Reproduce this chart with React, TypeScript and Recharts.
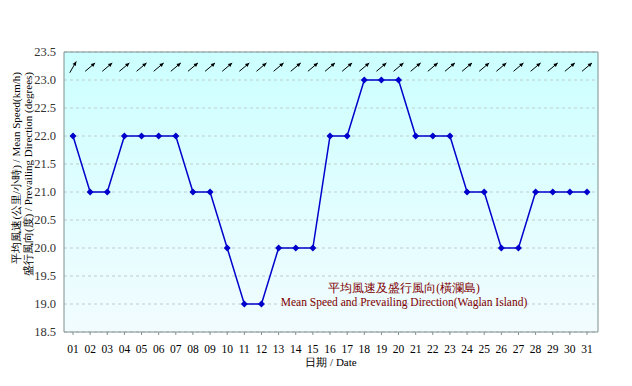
import { CartesianGrid, Line, LineChart, XAxis, YAxis } from "recharts";

const days = [
  "01", "02", "03", "04", "05", "06", "07", "08", "09", "10",
  "11", "12", "13", "14", "15", "16", "17", "18", "19", "20",
  "21", "22", "23", "24", "25", "26", "27", "28", "29", "30", "31",
];

const meanSpeed = [
  22, 21, 21, 22, 22, 22, 22, 21, 21, 20,
  19, 19, 20, 20, 20, 22, 22, 23, 23, 23,
  22, 22, 22, 21, 21, 20, 20, 21, 21, 21, 21,
];

// prevailing direction (degrees, wind from)
const direction = [
  210, 230, 230, 230, 230, 230, 230, 230, 230, 230,
  230, 230, 230, 230, 230, 230, 230, 230, 230, 230,
  230, 230, 230, 230, 230, 230, 230, 230, 230, 230, 230,
];

const yTicks = [18.5, 19.0, 19.5, 20.0, 20.5, 21.0, 21.5, 22.0, 22.5, 23.0, 23.5];
const arrowLevel = 23.23;

const data = days.map((d, i) => ({
  day: d,
  speed: meanSpeed[i],
  dir: direction[i],
  arrow: arrowLevel,
}));

const serif = "'Liberation Serif', 'Times New Roman', serif";
const frame = "#7f8f8f";
const xPad = { left: 9, right: 11 };

function Arrow(props: any) {
  const { cx, cy, payload } = props;
  if (cx == null || cy == null) return null;
  const toward = ((payload.dir + 180) * Math.PI) / 180;
  const len = 13;
  const dx = Math.sin(toward) * len;
  const dy = -Math.cos(toward) * len;
  const x1 = cx - dx / 2;
  const y1 = cy - dy / 2;
  const x2 = cx + dx / 2;
  const y2 = cy + dy / 2;
  const a = Math.atan2(y2 - y1, x2 - x1);
  const h = 4.5;
  const p1 = `${x2},${y2}`;
  const p2 = `${x2 - h * Math.cos(a - 0.45)},${y2 - h * Math.sin(a - 0.45)}`;
  const p3 = `${x2 - h * Math.cos(a + 0.45)},${y2 - h * Math.sin(a + 0.45)}`;
  return (
    <g>
      <line x1={x1} y1={y1} x2={x2} y2={y2} stroke="#000" strokeWidth={1} />
      <polygon points={`${p1} ${p2} ${p3}`} fill="#000" />
    </g>
  );
}

function Diamond(props: any) {
  const { cx, cy } = props;
  if (cx == null || cy == null) return null;
  const r = 3.5;
  return (
    <polygon
      points={`${cx},${cy - r} ${cx + r},${cy} ${cx},${cy + r} ${cx - r},${cy}`}
      fill="#0000cc"
    />
  );
}

function YTitle() {
  const top = 72;
  return (
    <g fontFamily={serif} fontSize={11} fill="#000">
      <text x={20} y={top} transform={`rotate(-90 20 ${top})`} textAnchor="end">
        平均風速(公里/小時) / Mean Speed(km/h)
      </text>
      <text x={32} y={top} transform={`rotate(-90 32 ${top})`} textAnchor="end">
        盛行風向(度) / Prevailing Direction (degrees)
      </text>
    </g>
  );
}

export default function App() {
  return (
    <div style={{ position: "fixed", left: 0, top: 0, width: 632, height: 386, background: "#fff" }}>
      <LineChart
        width={632}
        height={386}
        data={data}
        margin={{ top: 51, right: 33, bottom: 34, left: 24 }}
      >
        <defs>
          <linearGradient id="bg" x1="0" y1="0" x2="0" y2="1">
            <stop offset="0%" stopColor="#ccffff" />
            <stop offset="100%" stopColor="#f2fcff" />
          </linearGradient>
        </defs>
        <CartesianGrid
          vertical={false}
          fill="url(#bg)"
          fillOpacity={1}
          stroke="#c0cccc"
          strokeDasharray="3 3"
        />
        <XAxis
          dataKey="day"
          stroke={frame}
          tickSize={3}
          padding={xPad}
          tick={{ fontSize: 11.5, fill: "#000", fontFamily: serif, dy: 8 }}
          interval={0}
          height={20}
          label={{
            value: "日期 / Date",
            position: "insideBottom",
            offset: -14,
            style: { fontSize: 11, fill: "#000", fontFamily: serif },
          }}
        />
        <XAxis
          xAxisId="top"
          orientation="top"
          dataKey="day"
          padding={xPad}
          stroke={frame}
          tick={false}
          tickLine={false}
          height={1}
        />
        <YAxis
          domain={[18.5, 23.5]}
          ticks={yTicks}
          tickFormatter={(v: number) => v.toFixed(1)}
          width={40}
          stroke={frame}
          tickLine={false}
          tick={{ fontSize: 12.5, fill: "#333", fontFamily: serif }}
          label={<YTitle />}
        />
        <YAxis
          yAxisId="right"
          orientation="right"
          domain={[18.5, 23.5]}
          stroke={frame}
          tick={false}
          tickLine={false}
          width={1}
        />
        <Line
          dataKey="speed"
          stroke="#0000cc"
          strokeWidth={1.5}
          dot={<Diamond />}
          activeDot={false}
          isAnimationActive={false}
        />
        <Line
          xAxisId="top"
          yAxisId="right"
          dataKey="arrow"
          stroke="none"
          dot={<Arrow />}
          activeDot={false}
          isAnimationActive={false}
        />
      </LineChart>
      <div
        style={{
          position: "absolute",
          left: 239,
          top: 281,
          width: 330,
          textAlign: "center",
          fontFamily: serif,
          fontSize: 11.5,
          lineHeight: "14px",
          color: "#800000",
        }}
      >
        <div>平均風速及盛行風向(橫瀾島)</div>
        <div>Mean Speed and Prevailing Direction(Waglan Island)</div>
      </div>
    </div>
  );
}
